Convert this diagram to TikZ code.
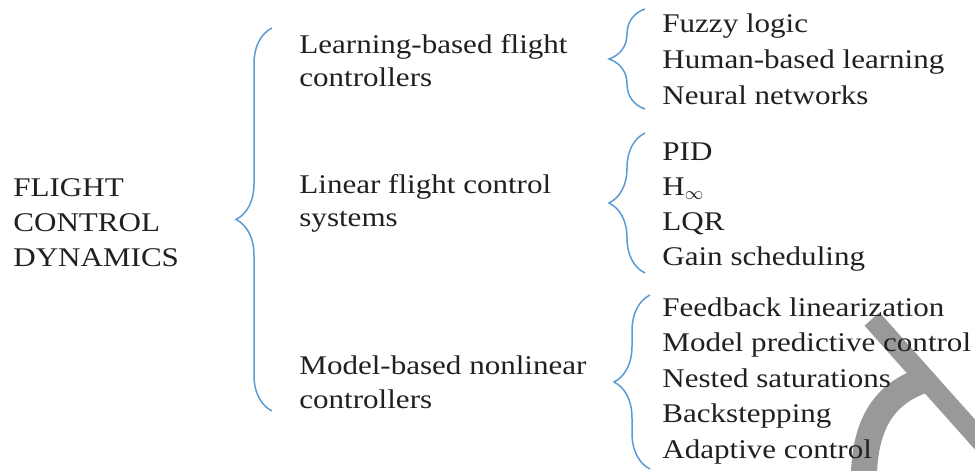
\documentclass[tikz,border=0pt]{standalone}
\usepackage{fontspec}
\setmainfont{Liberation Serif}[FakeStretch=1.15]
\usetikzlibrary{decorations.pathreplacing}
\definecolor{braceblue}{RGB}{91,155,213}
\definecolor{inkgray}{RGB}{35,31,32}
\definecolor{markgray}{RGB}{153,153,153}

\begin{document}
\begin{tikzpicture}[x=0.5pt,y=-0.5pt,
  label/.style={inner sep=0pt,anchor=base west,align=left,text=inkgray},
  curly/.style={draw=braceblue,line width=0.75pt,decorate,decoration={brace,amplitude=18pt}}]
\useasboundingbox (0,0) rectangle (975,471);
% watermark behind the text
\begin{scope}
\clip (0,0) rectangle (975,471);
\draw[markgray,line width=10pt] (872,319) -- (995,457);
\draw[markgray,line width=13pt] (864,490) .. controls (862,430) and (880,395) .. (924,380);
\end{scope}
% root (anchored on the last line)
\node[label,font=\fontsize{13.5pt}{17.5pt}\selectfont] (root) at (13,266.7) {FLIGHT\\CONTROL\\DYNAMICS};
\draw[curly] (272,411) -- (272,28);
% families
\node[label,font=\fontsize{13.5pt}{16.7pt}\selectfont] (learn) at (299,86.7) {Learning-based flight\\controllers};
\node[label,font=\fontsize{13.5pt}{16.7pt}\selectfont] (linear) at (299,226.7) {Linear flight control\\systems};
\node[label,font=\fontsize{13.5pt}{16.7pt}\selectfont] (model) at (299,408) {Model-based nonlinear\\controllers};
\draw[curly] (645,109) -- (645,9);
\draw[curly] (645,273) -- (645,133);
\draw[curly] (650,469) -- (650,295);
% methods
\node[label,font=\fontsize{13.5pt}{17.85pt}\selectfont] (learnlist) at (662,104) {Fuzzy logic\\Human-based learning\\Neural networks};
\node[label,font=\fontsize{13.5pt}{17.5pt}\selectfont] (linearlist) at (662,265) {PID\\H$_\infty$\\LQR\\Gain scheduling};
\node[label,font=\fontsize{13.5pt}{17.7pt}\selectfont] (modellist) at (662,458) {Feedback linearization\\Model predictive control\\Nested saturations\\Backstepping\\Adaptive control};
\end{tikzpicture}
\end{document}
